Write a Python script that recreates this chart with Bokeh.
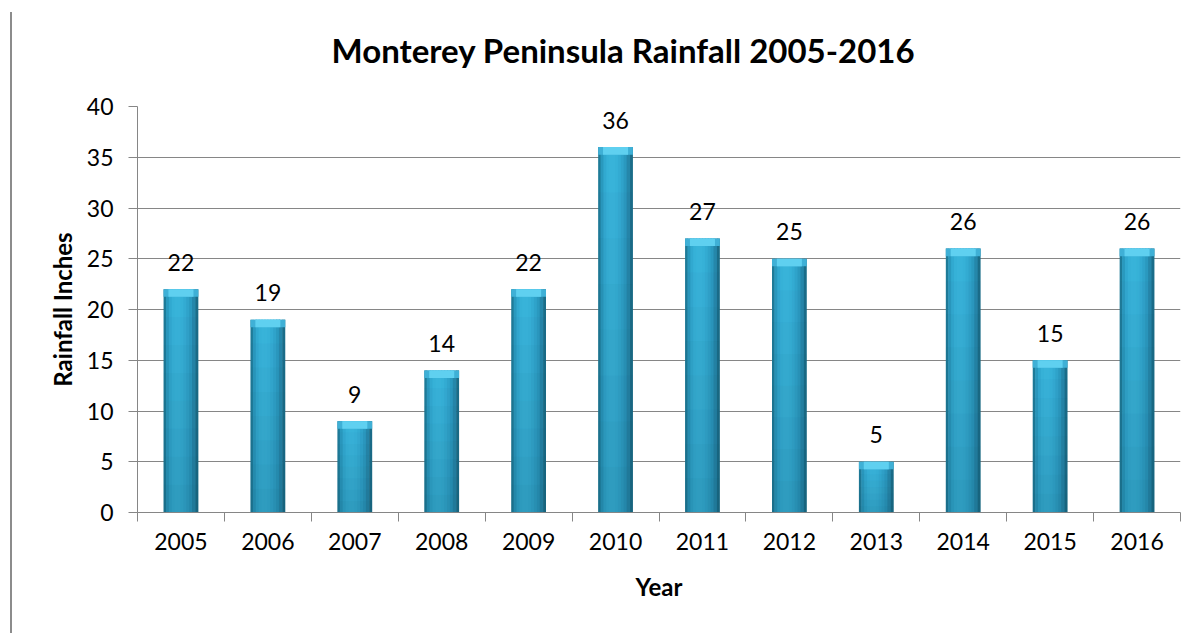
from bokeh.plotting import figure
from bokeh.models import FixedTicker, Range1d, ColumnDataSource, Title, Div
from bokeh.layouts import row
from bokeh.core.properties import value
from bokeh.embed import file_html
from bokeh.resources import INLINE
import numpy as np

# ---- data ----
years = ["2005", "2006", "2007", "2008", "2009", "2010", "2011", "2012", "2013", "2014", "2015", "2016"]
rainfall = [22, 19, 9, 14, 22, 36, 27, 25, 5, 26, 15, 26]
y_ticks = [0, 5, 10, 15, 20, 25, 30, 35, 40]
title_text = "Monterey Peninsula Rainfall 2005-2016"
y_label = "Rainfall Inches"
x_label = "Year"

FONT = "Lato"
GRAY = "#868686"

idx = np.arange(len(years))
centers = idx + 0.5
vals = np.array(rainfall, dtype=float)

p = figure(width=1170, height=630, output_backend="svg", toolbar_location=None,
           x_range=Range1d(0, len(years)), y_range=Range1d(0, 40),
           min_border_left=120, min_border_right=7, min_border_top=106, min_border_bottom=118)
p.outline_line_color = None
p.background_fill_color = "white"
p.border_fill_color = "white"

# real title (outer) and a spacer title between it and the frame
p.title.text = title_text
p.title.align = "left"
p.title.offset = 194
p.title.text_font = FONT
p.title.text_font_size = "33px"
p.title.text_font_style = "bold"
p.title.text_color = "black"
p.add_layout(Title(text=" ", text_font_size="18px"), "above")

# bars drawn as vertical strips for a horizontal shading
strip_colors = ["#1f7d9b", "#2b9cc2", "#33acd4", "#38b4dc", "#3ab7de", "#3ab7de",
                "#38b4dc", "#35aed6", "#31a6ce", "#2c9cc3", "#2789ad", "#1b6f8b"]
bar_w = 0.40
n = len(strip_colors)
sw = bar_w / n
for k, c in enumerate(strip_colors):
    off = -bar_w / 2 + sw * (k + 0.5)
    wk = sw * 1.35 if 0 < k < n - 1 else sw
    p.vbar(x=centers + off, top=vals, bottom=0, width=wk, fill_color=c, line_color=None)
# darker towards the bottom (vertical shading)
nseg = 8
for j in range(nseg):
    p.vbar(x=centers, bottom=vals * j / nseg, top=vals * (j + 1) / nseg, width=bar_w,
           fill_color="#0b3f52", fill_alpha=0.22 * (1 - j / nseg), line_color=None)
# bevelled top cap
p.vbar(x=centers, top=vals, bottom=vals - 0.75, width=bar_w,
       fill_color="#3fb0d6", line_color=None)
p.vbar(x=centers, top=vals, bottom=vals - 0.75, width=bar_w * 0.72,
       fill_color="#5fd0f0", line_color=None)

# value labels
src = ColumnDataSource(dict(x=centers, y=vals, t=[str(v) for v in rainfall]))
p.text(x="x", y="y", text="t", source=src, text_align="center", text_baseline="alphabetic",
       y_offset=-27, text_font=value(FONT), text_font_size="23px", text_color="black")

# y axis
p.yaxis.ticker = FixedTicker(ticks=y_ticks)
p.yaxis.axis_line_color = GRAY
p.yaxis.major_tick_line_color = GRAY
p.yaxis.major_tick_out = 9
p.yaxis.major_tick_in = 0
p.yaxis.minor_tick_line_color = None
p.yaxis.major_label_standoff = 15
p.yaxis.major_label_text_font = FONT
p.yaxis.major_label_text_font_size = "23px"
p.yaxis.major_label_text_color = "black"
p.yaxis.axis_label = y_label
p.yaxis.axis_label_text_font = FONT
p.yaxis.axis_label_text_font_size = "24px"
p.yaxis.axis_label_text_font_style = "bold"
p.yaxis.axis_label_text_color = "black"
p.yaxis.axis_label_standoff = 7

# x axis: labels at category centres, tick marks at boundaries
p.xaxis.ticker = FixedTicker(ticks=list(centers), minor_ticks=list(range(len(years) + 1)))
p.xaxis.major_label_overrides = {float(c): y for c, y in zip(centers, years)}
p.xaxis.axis_line_color = GRAY
p.xaxis.major_tick_line_color = None
p.xaxis.major_tick_out = 0
p.xaxis.major_tick_in = 0
p.xaxis.minor_tick_line_color = GRAY
p.xaxis.minor_tick_out = 9
p.xaxis.minor_tick_in = 0
p.xaxis.major_label_standoff = 11
p.xaxis.major_label_text_font = FONT
p.xaxis.major_label_text_font_size = "23px"
p.xaxis.major_label_text_color = "black"
p.xaxis.axis_label = x_label
p.xaxis.axis_label_text_font = FONT
p.xaxis.axis_label_text_font_size = "24px"
p.xaxis.axis_label_text_font_style = "bold"
p.xaxis.axis_label_text_color = "black"
p.xaxis.axis_label_standoff = 19

# grid
p.xgrid.grid_line_color = None
p.ygrid.ticker = FixedTicker(ticks=y_ticks)
p.ygrid.grid_line_color = GRAY
p.ygrid.grid_line_width = 1

# left border line of the chart area (starting a little below the top)
edge = Div(text="", width=7, height=630,
           styles={"background": "linear-gradient(#8c8c8c, #8c8c8c) no-repeat right 0 top 7px / 2px calc(100% - 7px)"})

layout = row(edge, p)
open("out.html", "w").write(file_html(layout, INLINE))
